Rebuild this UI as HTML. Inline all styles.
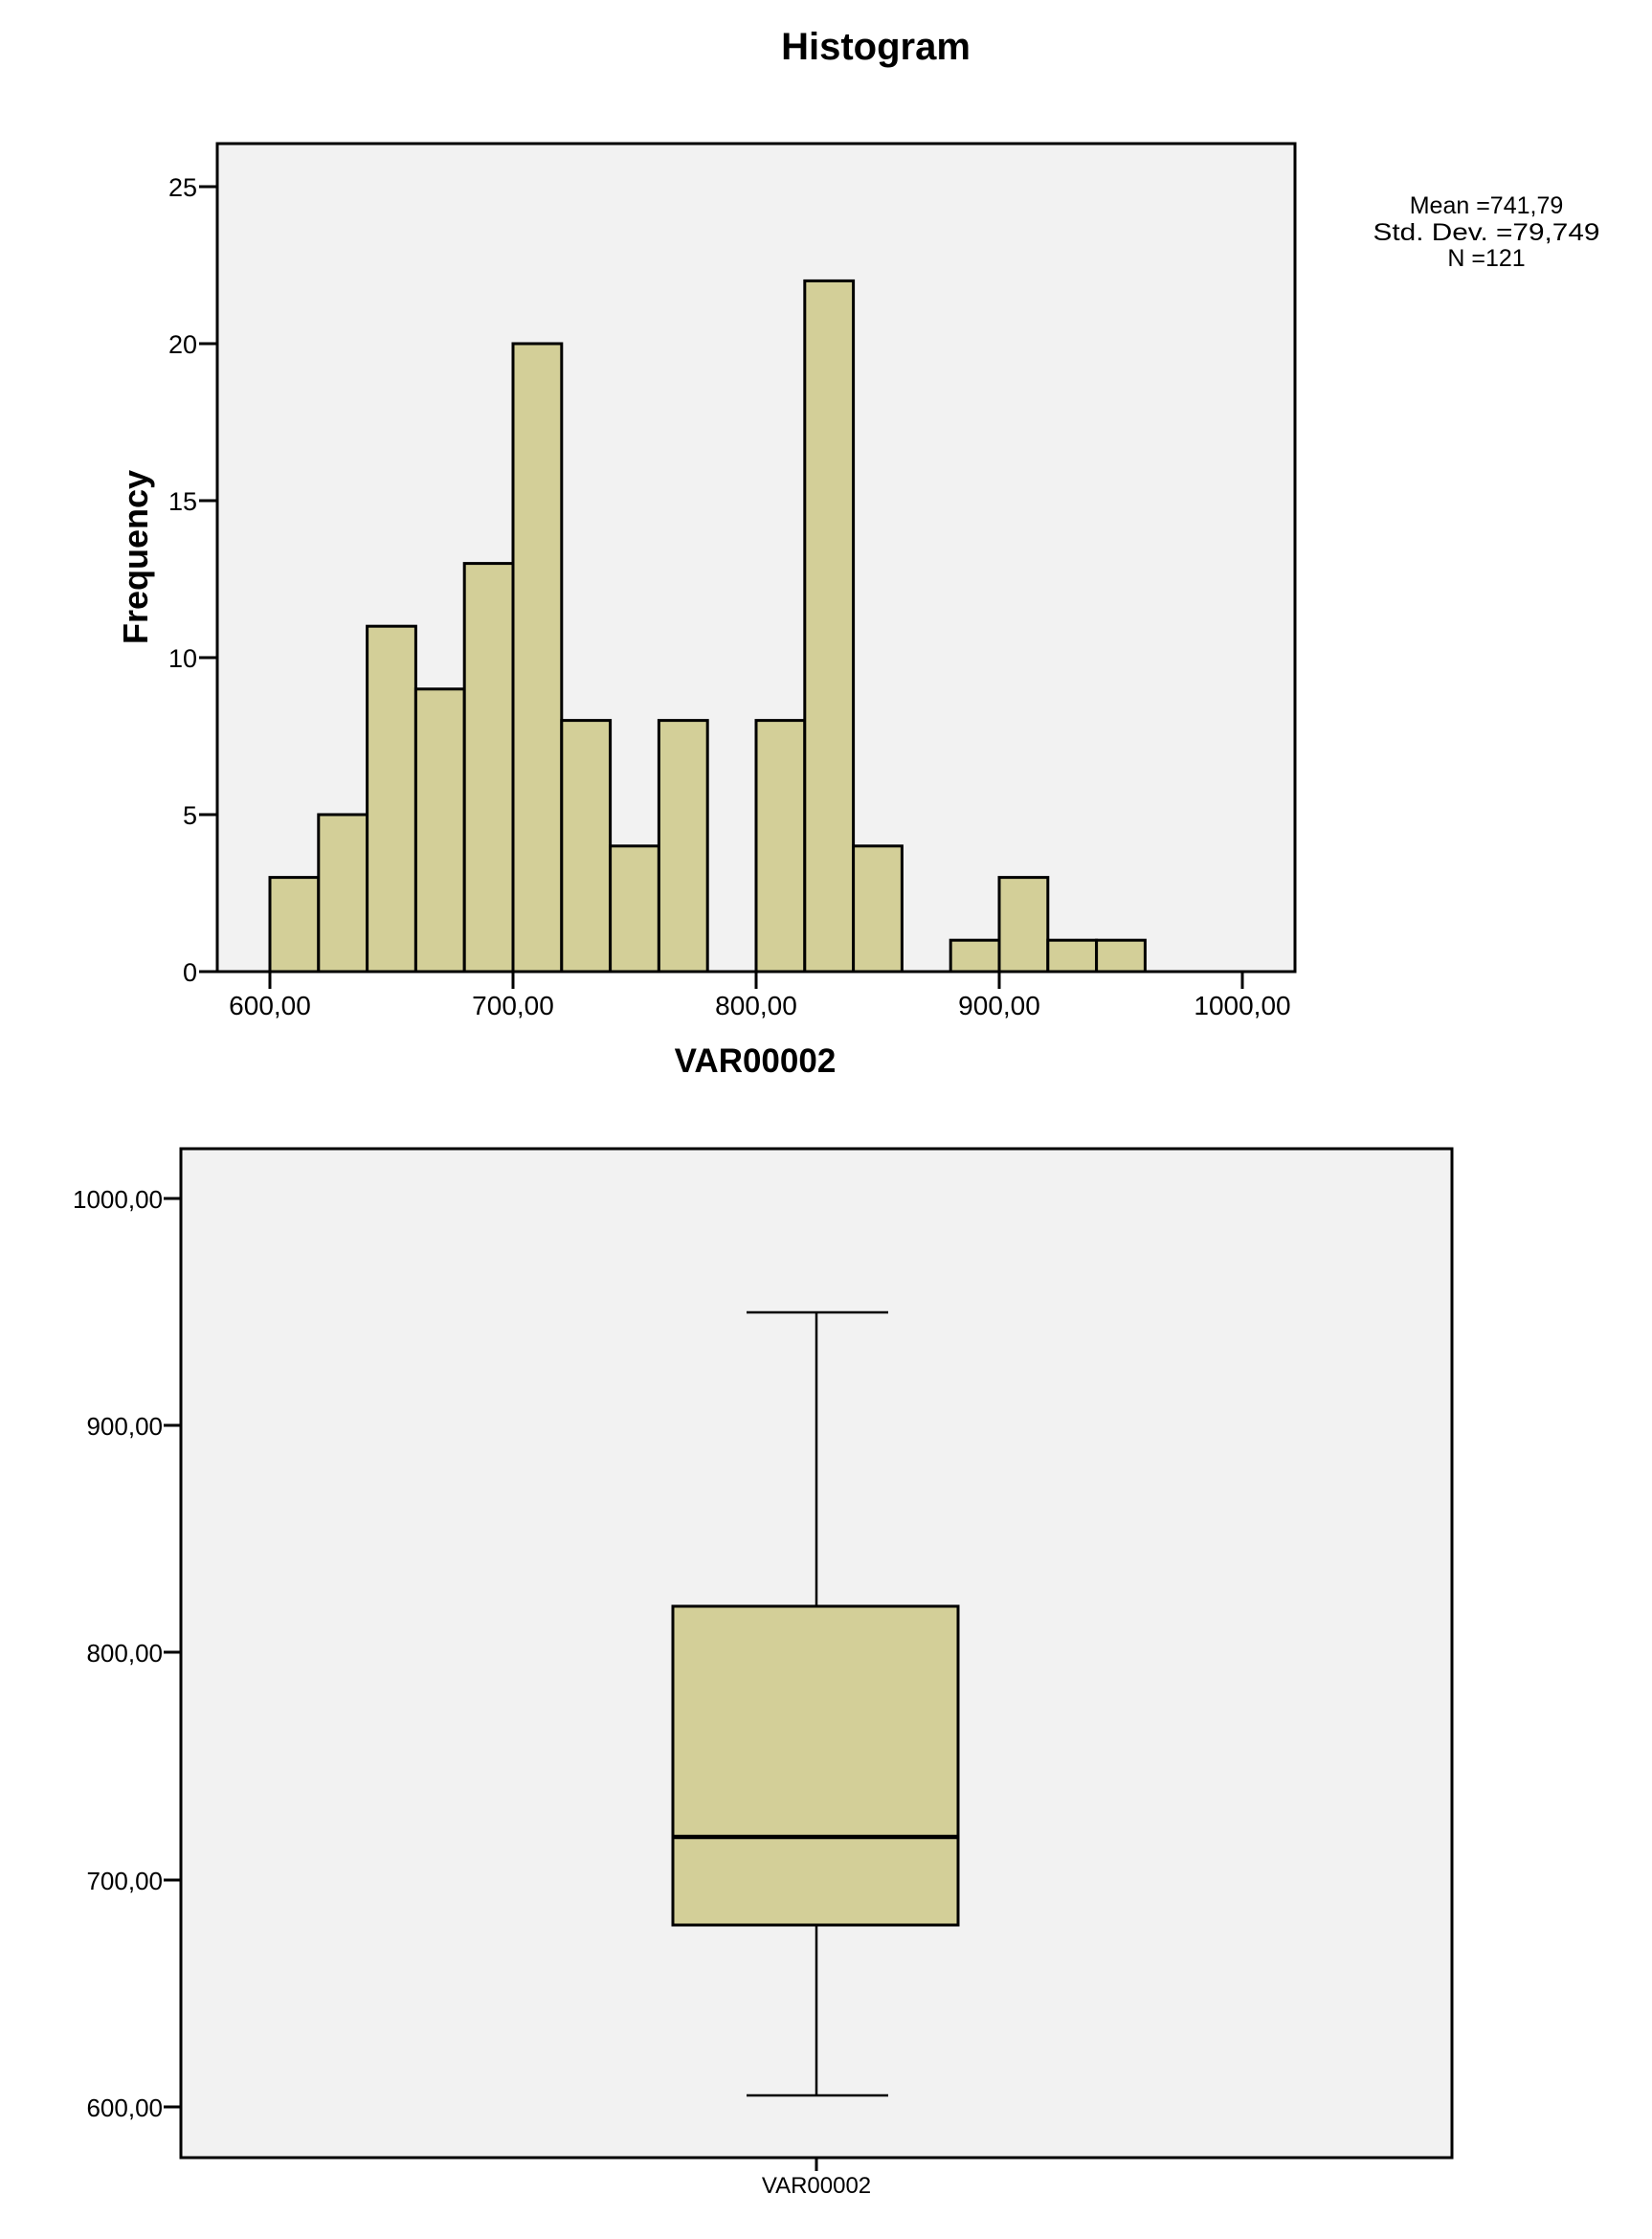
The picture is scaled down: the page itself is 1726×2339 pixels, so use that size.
<!DOCTYPE html>
<html><head><meta charset="utf-8"><style>html,body{margin:0;padding:0;background:#fff}svg{display:block}</style></head>
<body>
<svg width="1726" height="2339" viewBox="0 0 1726 2339" xmlns="http://www.w3.org/2000/svg" font-family="Liberation Sans, Arial, sans-serif">
<rect width="1726" height="2339" fill="#fff"/>
<!-- Histogram -->
<text x="915" y="62" font-size="40" font-weight="bold" text-anchor="middle">Histogram</text>
<rect x="227" y="150" width="1126" height="865" fill="#f2f2f2" stroke="#000" stroke-width="3"/>
<g fill="#d3cf98" stroke="#000" stroke-width="3">
<rect x="282" y="916.6" width="50.8" height="98.4"/>
<rect x="332.8" y="851" width="50.8" height="164"/>
<rect x="383.6" y="654.2" width="50.8" height="360.8"/>
<rect x="434.4" y="719.8" width="50.8" height="295.2"/>
<rect x="485.2" y="588.6" width="50.8" height="426.4"/>
<rect x="536" y="359" width="50.8" height="656"/>
<rect x="586.8" y="752.6" width="50.8" height="262.4"/>
<rect x="637.6" y="883.8" width="50.8" height="131.2"/>
<rect x="688.4" y="752.6" width="50.8" height="262.4"/>
<rect x="790" y="752.6" width="50.8" height="262.4"/>
<rect x="840.8" y="293.4" width="50.8" height="721.6"/>
<rect x="891.6" y="883.8" width="50.8" height="131.2"/>
<rect x="993.2" y="982.2" width="50.8" height="32.8"/>
<rect x="1044" y="916.6" width="50.8" height="98.4"/>
<rect x="1094.8" y="982.2" width="50.8" height="32.8"/>
<rect x="1145.6" y="982.2" width="50.8" height="32.8"/>
</g>
<line x1="227" y1="1015" x2="1353" y2="1015" stroke="#000" stroke-width="3"/>
<g stroke="#000" stroke-width="3">
<line x1="208" y1="1015" x2="227" y2="1015"/><line x1="208" y1="851" x2="227" y2="851"/>
<line x1="208" y1="687" x2="227" y2="687"/><line x1="208" y1="523" x2="227" y2="523"/>
<line x1="208" y1="359" x2="227" y2="359"/><line x1="208" y1="195" x2="227" y2="195"/>
<line x1="282" y1="1015" x2="282" y2="1033"/><line x1="536" y1="1015" x2="536" y2="1033"/>
<line x1="790" y1="1015" x2="790" y2="1033"/><line x1="1044" y1="1015" x2="1044" y2="1033"/>
<line x1="1298" y1="1015" x2="1298" y2="1033"/>
</g>
<g font-size="27" text-anchor="end">
<text x="206" y="1025">0</text><text x="206" y="861">5</text><text x="206" y="697">10</text>
<text x="206" y="533">15</text><text x="206" y="369">20</text><text x="206" y="205">25</text>
</g>
<g font-size="28" text-anchor="middle">
<text x="282" y="1060">600,00</text><text x="536" y="1060">700,00</text><text x="790" y="1060">800,00</text>
<text x="1044" y="1060">900,00</text><text x="1298" y="1060">1000,00</text>
</g>
<text x="789" y="1120" font-size="35" font-weight="bold" text-anchor="middle">VAR00002</text>
<text transform="translate(154,582) rotate(-90)" font-size="36" font-weight="bold" text-anchor="middle">Frequency</text>
<g font-size="25" text-anchor="middle">
<text x="1553" y="223">Mean =741,79</text>
<text x="1553" y="251" textLength="237" lengthAdjust="spacingAndGlyphs">Std. Dev. =79,749</text>
<text x="1553" y="278">N =121</text>
</g>
<!-- Boxplot -->
<rect x="189" y="1200" width="1328" height="1054" fill="#f2f2f2" stroke="#000" stroke-width="3"/>
<g stroke="#000" stroke-width="3">
<line x1="171" y1="1252" x2="189" y2="1252"/><line x1="171" y1="1489" x2="189" y2="1489"/>
<line x1="171" y1="1726" x2="189" y2="1726"/><line x1="171" y1="1964" x2="189" y2="1964"/>
<line x1="171" y1="2201" x2="189" y2="2201"/>
<line x1="853" y1="2254" x2="853" y2="2268"/>
</g>
<g font-size="26" text-anchor="end">
<text x="170" y="1262">1000,00</text><text x="170" y="1499">900,00</text><text x="170" y="1736">800,00</text>
<text x="170" y="1974">700,00</text><text x="170" y="2211">600,00</text>
</g>
<g stroke="#000" stroke-width="2.5">
<line x1="853" y1="1371" x2="853" y2="1678"/>
<line x1="853" y1="2011" x2="853" y2="2189"/>
<line x1="780" y1="1371" x2="928" y2="1371"/>
<line x1="780" y1="2189" x2="928" y2="2189"/>
</g>
<rect x="703" y="1678" width="298" height="333" fill="#d3cf98" stroke="#000" stroke-width="3"/>
<line x1="703" y1="1919" x2="1001" y2="1919" stroke="#000" stroke-width="4.5"/>
<text x="853" y="2291" font-size="24" text-anchor="middle">VAR00002</text>
</svg>
</body></html>
